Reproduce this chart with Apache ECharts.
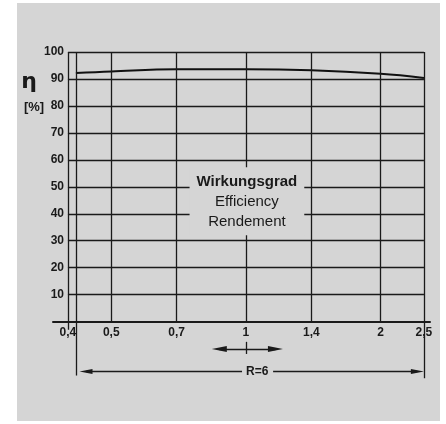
<!DOCTYPE html>
<html>
<head>
<meta charset="utf-8">
<script src="https://cdn.jsdelivr.net/npm/echarts@6/dist/echarts.min.js"></script>
<style>html,body{margin:0;padding:0;background:#fff}#c{width:446px;height:424px}</style>
</head>
<body>
<div id="c"></div>
<script>
// ---- data ----
const tickValues = [0.4, 0.5, 0.7, 1, 1.4, 2, 2.5];
const tickLabels = ['0,4', '0,5', '0,7', '1', '1,4', '2', '2,5'];
const gridXValues = [0.4167, 0.5, 0.7, 1, 1.4, 2, 2.5];
const yGridValues = [10, 20, 30, 40, 50, 60, 70, 80, 90, 100];
const effR = [0.4167, 0.5, 0.7, 1, 1.4, 2, 2.5];
const effValues = [92.2, 92.8, 93.6, 93.6, 93.2, 91.9, 90.4];

const paper = '#d5d5d5';
const ink = '#1a1a1a';
const ff = '"Liberation Sans", Arial, sans-serif';

const chart = echarts.init(document.getElementById('c'), null, {renderer: 'canvas'});

const lines = [];
yGridValues.forEach(y => lines.push([{coord: [0.4, y]}, {coord: [2.5, y]}]));
gridXValues.forEach(x => lines.push([{coord: [x, 0]}, {coord: [x, 100]}]));
lines.push([{coord: [0.4, -3]}, {coord: [0.4, 100]}]);
// range bracket R=6
lines.push([{coord: [0.4167, 0]}, {coord: [0.4167, -20]}]);
lines.push([{coord: [2.5, 0]}, {coord: [2.5, -21]}]);
lines.push([{coord: [0.439, -18.5], symbol: 'triangle', symbolSize: [5, 13]}, {coord: [0.98, -18.5]}]);
lines.push([{coord: [1.15, -18.5]}, {coord: [2.417, -18.5], symbol: 'triangle', symbolSize: [5, 13]}]);
// double arrow around 1
lines.push([{coord: [0.872, -10.2], symbol: 'triangle', symbolSize: [6, 15]}, {coord: [1.164, -10.2], symbol: 'triangle', symbolSize: [6, 15]}]);
lines.push([{coord: [1, -7.5]}, {coord: [1, -12]}]);

const points = tickValues.map((v, i) => ({
  coord: [v, 0],
  label: {show: true, position: 'bottom', distance: 5, formatter: tickLabels[i],
    color: ink, fontSize: 12, fontWeight: 'bold', fontFamily: ff}
}));
points.push({
  coord: [1.06, -18.5],
  label: {show: true, position: 'inside', formatter: 'R=6', color: ink, fontSize: 12,
    fontWeight: 'bold', fontFamily: ff}
});
points.push({
  coord: [1.005, 44.6],
  label: {
    show: true, position: 'inside',
    formatter: '{b|Wirkungsgrad}\n{n|Efficiency}\n{n|Rendement}',
    backgroundColor: paper, padding: [4, 7], align: 'center',
    rich: {
      b: {fontWeight: 'bold', fontSize: 15, lineHeight: 20, color: ink, fontFamily: ff, align: 'center'},
      n: {fontSize: 15, lineHeight: 20, color: ink, fontFamily: ff, align: 'center'}
    }
  }
});

const option = {
  animation: false,
  backgroundColor: paper,
  graphic: [
    {type: 'rect', shape: {x: 0, y: 0, width: 17, height: 424}, style: {fill: '#fff'}, z: 100},
    {type: 'rect', shape: {x: 440, y: 0, width: 6, height: 424}, style: {fill: '#fff'}, z: 100},
    {type: 'rect', shape: {x: 0, y: 0, width: 446, height: 3}, style: {fill: '#fff'}, z: 100},
    {type: 'rect', shape: {x: 0, y: 421, width: 446, height: 3}, style: {fill: '#fff'}, z: 100},
    {type: 'text', x: 29, y: 82, style: {text: 'η', font: 'bold 22px "DejaVu Sans", sans-serif', fill: ink, align: 'center', verticalAlign: 'middle'}, z: 100},
    {type: 'text', x: 34, y: 107, style: {text: '[%]', font: 'bold 13px "Liberation Sans", Arial, sans-serif', fill: ink, align: 'center', verticalAlign: 'middle'}, z: 100}
  ],
  grid: {left: 53, right: 16, top: 52, bottom: 21.5},
  xAxis: {
    type: 'log', logBase: 10, min: 0.3704, max: 2.579,
    axisLine: {onZero: true, lineStyle: {color: ink, width: 2}},
    axisTick: {show: false}, axisLabel: {show: false},
    splitLine: {show: false}, minorTick: {show: false}, minorSplitLine: {show: false}
  },
  yAxis: {
    type: 'value', min: -30, max: 100, interval: 10, offset: -14,
    axisLine: {show: false}, axisTick: {show: false}, splitLine: {show: false},
    axisLabel: {margin: 3, formatter: v => (v > 0 ? String(v) : ''), color: ink,
      fontWeight: 'bold', fontSize: 12, fontFamily: ff}
  },
  series: [{
    type: 'line',
    data: effR.map((r, i) => [r, effValues[i]]),
    smooth: 0.4, symbol: 'none',
    lineStyle: {color: '#111', width: 2},
    markLine: {
      silent: true, symbol: ['none', 'none'], label: {show: false},
      lineStyle: {color: ink, width: 1.3, type: 'solid'},
      data: lines
    },
    markPoint: {
      silent: true, symbol: 'circle', symbolSize: 1, z: 10,
      itemStyle: {color: 'rgba(0,0,0,0)'},
      data: points
    }
  }]
};
chart.setOption(option);
</script>
</body>
</html>
